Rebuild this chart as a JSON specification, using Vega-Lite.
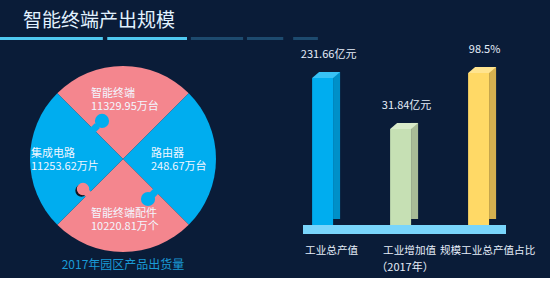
{
  "$schema": "https://vega.github.io/schema/vega-lite/v6.json",
  "background": "#0a1c38",
  "padding": {"left": 0, "top": 12, "right": 0, "bottom": 0},
  "title": {"text": "智能终端产出规模", "anchor": "start", "dx": 23, "fontSize": 19, "font": "Noto Sans CJK SC", "fontWeight": "normal", "color": "#e2f2ff", "offset": 6},
  "config": {"view": {"stroke": null}, "font": "Noto Sans CJK SC"},
  "spacing": 0,
  "vconcat": [
    {
      "width": 550,
      "height": 3,
      "data": {"values": [{}]},
      "layer": [
        {"mark": {"type": "rect", "color": "#4fc8f0"}, "encoding": {"x": {"datum": 0, "type": "quantitative", "scale": {"domain": [0, 100]}, "axis": null}, "x2": {"datum": 18.7}}},
        {"mark": {"type": "rect", "color": "#4fc8f0"}, "encoding": {"x": {"datum": 19.5, "type": "quantitative", "axis": null}, "x2": {"datum": 34}}},
        {"mark": {"type": "rect", "color": "#1d4a6e"}, "encoding": {"x": {"datum": 34.7, "type": "quantitative", "axis": null}, "x2": {"datum": 44.2}}},
        {"mark": {"type": "rect", "color": "#1d4a6e"}, "encoding": {"x": {"datum": 44.9, "type": "quantitative", "axis": null}, "x2": {"datum": 51.5}}},
        {"mark": {"type": "rect", "color": "#1d4a6e"}, "encoding": {"x": {"datum": 53.3, "type": "quantitative", "axis": null}, "x2": {"datum": 57.8}}}
      ]
    },
    {
      "spacing": 54,
      "hconcat": [
        {
          "width": 246,
          "height": 238,
          "title": {"text": "2017年园区产品出货量", "orient": "bottom", "fontSize": 12, "fontWeight": "normal", "color": "#1a9ad6", "offset": -18},
          "data": {"values": [
            {"name": "智能终端", "label": "11329.95万台", "value": 11329.95},
            {"name": "路由器", "label": "248.67万台", "value": 248.67},
            {"name": "智能终端配件", "label": "10220.81万个", "value": 10220.81},
            {"name": "集成电路", "label": "11253.62万片", "value": 11253.62}
          ]},
          "layer": [
            {
              "mark": {"type": "arc", "outerRadius": 93},
              "encoding": {
                "theta": {"aggregate": "count", "type": "quantitative", "stack": true, "scale": {"range": [0.7854, 7.0686]}},
                "color": {"field": "name", "type": "nominal", "scale": {"domain": ["智能终端", "路由器", "智能终端配件", "集成电路"], "range": ["#f4868e", "#00adef", "#f4868e", "#00adef"]}, "legend": null},
                "order": {"field": "value", "type": "quantitative", "sort": "ascending"}
              }
            },
            {
              "data": {"values": [{}]},
              "mark": {"type": "point", "filled": true, "opacity": 1, "strokeWidth": 0, "size": 201, "color": "#00adef"},
              "encoding": {
                "x": {"datum": -0.226, "type": "quantitative", "scale": {"domain": [-1.3226, 1.3226], "nice": false, "zero": false}, "axis": null},
                "y": {"datum": 0.409, "type": "quantitative", "scale": {"domain": [-1.2796, 1.2796], "nice": false, "zero": false}, "axis": null}
              }
            },
            {
              "data": {"values": [{}]},
              "mark": {"type": "point", "shape": "diamond", "filled": true, "opacity": 1, "strokeWidth": 0, "size": 98, "color": "#00adef"},
              "encoding": {
                "x": {"datum": -0.302, "type": "quantitative", "axis": null},
                "y": {"datum": 0.332, "type": "quantitative", "axis": null}
              }
            },
            {
              "data": {"values": [{}]},
              "mark": {"type": "point", "filled": true, "opacity": 1, "strokeWidth": 0, "size": 154, "color": "#10131f", "xOffset": -1.5, "yOffset": 1.5},
              "encoding": {
                "x": {"datum": -0.43, "type": "quantitative", "axis": null},
                "y": {"datum": -0.323, "type": "quantitative", "axis": null}
              }
            },
            {
              "data": {"values": [{}]},
              "mark": {"type": "point", "filled": true, "opacity": 1, "strokeWidth": 0, "size": 154, "color": "#f4868e"},
              "encoding": {
                "x": {"datum": -0.43, "type": "quantitative", "axis": null},
                "y": {"datum": -0.323, "type": "quantitative", "axis": null}
              }
            },
            {
              "data": {"values": [{}]},
              "mark": {"type": "point", "shape": "diamond", "filled": true, "opacity": 1, "strokeWidth": 0, "size": 98, "color": "#f4868e"},
              "encoding": {
                "x": {"datum": -0.391, "type": "quantitative", "axis": null},
                "y": {"datum": -0.361, "type": "quantitative", "axis": null}
              }
            },
            {
              "data": {"values": [{}]},
              "mark": {"type": "point", "filled": true, "opacity": 1, "strokeWidth": 0, "size": 201, "color": "#00adef"},
              "encoding": {
                "x": {"datum": 0.269, "type": "quantitative", "axis": null},
                "y": {"datum": -0.43, "type": "quantitative", "axis": null}
              }
            },
            {
              "data": {"values": [{}]},
              "mark": {"type": "point", "shape": "diamond", "filled": true, "opacity": 1, "strokeWidth": 0, "size": 98, "color": "#00adef"},
              "encoding": {
                "x": {"datum": 0.334, "type": "quantitative", "axis": null},
                "y": {"datum": -0.365, "type": "quantitative", "axis": null}
              }
            },
            {
              "transform": [{"calculate": "datum.name + '\\n' + datum.label", "as": "txt"}],
              "mark": {"type": "text", "radius": 60, "align": "left", "baseline": "middle", "dx": -32, "dy": -5, "fontSize": 11, "lineBreak": "\n", "lineHeight": 13, "color": "#f2f6ff"},
              "encoding": {
                "theta": {"aggregate": "count", "type": "quantitative", "stack": true},
                "detail": {"field": "name", "type": "nominal"},
                "order": {"field": "value", "type": "quantitative", "sort": "ascending"},
                "text": {"field": "txt", "type": "nominal"}
              }
            }
          ]
        },
        {
          "width": 203,
          "height": 194,
          "data": {"values": [
            {"name": "工业总产值", "lab": "231.66亿元", "h": 96.7},
            {"name": "工业增加值", "lab": "31.84亿元", "h": 63.2},
            {"name": "规模工业总产值占比", "lab": "98.5%", "h": 100}
          ]},
          "layer": [
            {
              "data": {"values": [{}]},
              "mark": {"type": "rect", "color": "#79d5fb"},
              "encoding": {
                "y": {"datum": 0, "type": "quantitative", "scale": {"domain": [-5.9, 121.7], "nice": false, "zero": false}, "axis": null},
                "y2": {"datum": -5.9}
              }
            },
            {
              "mark": {"type": "bar", "width": 7, "xOffset": 14, "yOffset": -6},
              "encoding": {
                "x": {"field": "name", "type": "nominal", "sort": null, "scale": {"paddingInner": 0.7308, "paddingOuter": 0.1667, "align": 0.35}, "title": "（2017年）", "axis": {"labelAngle": 0, "domain": false, "ticks": false, "labelFontSize": 10.6, "labelColor": "#e6eefa", "labelPadding": 11, "labelOffset": 9, "titleFontSize": 11, "titleFontWeight": "normal", "titleColor": "#e6eefa", "titlePadding": 6}},
                "y": {"field": "h", "type": "quantitative", "scale": {"domain": [-5.9, 121.7], "nice": false, "zero": false}, "axis": null},
                "color": {"field": "name", "type": "nominal", "sort": null, "scale": {"range": ["#0090c8", "#a8bc97", "#d5b04f"]}, "legend": null}
              }
            },
            {
              "mark": {"type": "bar"},
              "encoding": {
                "x": {"field": "name", "type": "nominal", "sort": null, "scale": {"paddingInner": 0.7308, "paddingOuter": 0.1667, "align": 0.35}, "title": "（2017年）", "axis": {"labelAngle": 0, "domain": false, "ticks": false, "labelFontSize": 10.6, "labelColor": "#e6eefa", "labelPadding": 11, "labelOffset": 9, "titleFontSize": 11, "titleFontWeight": "normal", "titleColor": "#e6eefa", "titlePadding": 6}},
                "y": {"field": "h", "type": "quantitative"},
                "color": {"field": "name", "type": "nominal", "sort": null, "scale": {"range": ["#00adef", "#c6e0b4", "#ffd966"]}, "legend": null}
              }
            },
            {
              "mark": {"type": "point", "filled": true, "opacity": 1, "strokeWidth": 0, "size": 784, "shape": "M -1 0.2143 L 0.5 0.2143 L 1 -0.2143 L -0.5 -0.2143 Z", "xOffset": 3.5, "yOffset": -3},
              "encoding": {
                "x": {"field": "name", "type": "nominal", "sort": null, "scale": {"paddingInner": 0.7308, "paddingOuter": 0.1667, "align": 0.35}, "title": "（2017年）", "axis": {"labelAngle": 0, "domain": false, "ticks": false, "labelFontSize": 10.6, "labelColor": "#e6eefa", "labelPadding": 11, "labelOffset": 9, "titleFontSize": 11, "titleFontWeight": "normal", "titleColor": "#e6eefa", "titlePadding": 6}},
                "y": {"field": "h", "type": "quantitative"},
                "color": {"field": "name", "type": "nominal", "sort": null, "scale": {"range": ["#38c2f5", "#d9ebca", "#ffe48f"]}, "legend": null}
              }
            },
            {
              "mark": {"type": "text", "dy": -23, "dx": 6, "fontSize": 11, "color": "#e6eefa", "baseline": "middle"},
              "encoding": {
                "x": {"field": "name", "type": "nominal", "sort": null, "scale": {"paddingInner": 0.7308, "paddingOuter": 0.1667, "align": 0.35}, "title": "（2017年）", "axis": {"labelAngle": 0, "domain": false, "ticks": false, "labelFontSize": 10.6, "labelColor": "#e6eefa", "labelPadding": 11, "labelOffset": 9, "titleFontSize": 11, "titleFontWeight": "normal", "titleColor": "#e6eefa", "titlePadding": 6}},
                "y": {"field": "h", "type": "quantitative"},
                "text": {"field": "lab", "type": "nominal"}
              }
            }
          ],
          "resolve": {"scale": {"color": "independent"}}
        }
      ]
    }
  ]
}
